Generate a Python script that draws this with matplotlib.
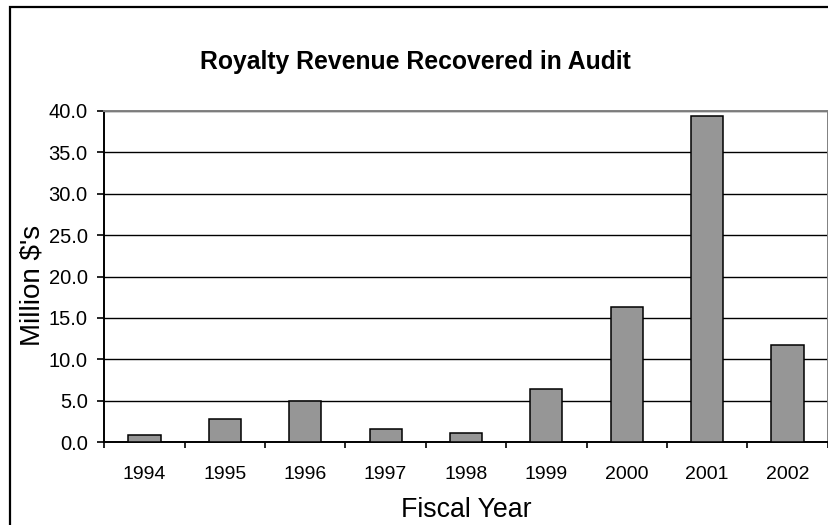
import matplotlib
matplotlib.use("Agg")
import matplotlib.pyplot as plt
from matplotlib.patches import Rectangle

years = ["1994", "1995", "1996", "1997", "1998", "1999", "2000", "2001", "2002"]
values = [0.9, 2.8, 5.0, 1.6, 1.1, 6.4, 16.3, 39.4, 11.7]
yticks = [0, 5, 10, 15, 20, 25, 30, 35, 40]
title = "Royalty Revenue Recovered in Audit"
xlabel = "Fiscal Year"
ylabel = "Million $'s"

plt.rcParams['font.family'] = ['Liberation Sans', 'DejaVu Sans']

W, H = 829, 525
fig = plt.figure(figsize=(W / 100, H / 100), dpi=100)

# outer chart border
fig.patches.append(Rectangle((10 / W, -0.2), 1.5, 1.2 - 7 / H, transform=fig.transFigure,
                             fill=False, edgecolor='black', linewidth=1.6, zorder=0))

ax = fig.add_axes([104.3 / W, 1 - 442.3 / H, (827.7 - 104.3) / W, (442.3 - 110.7) / H])
x = list(range(len(years)))
ax.bar(x, values, width=0.4, color='#969696', edgecolor='black', linewidth=1.1, zorder=3)
ax.set_xlim(-0.5, len(years) - 0.5)
ax.set_ylim(0, 40)

ax.set_yticks(yticks)
ax.set_yticklabels([f"{v:.1f}" for v in yticks])
ax.yaxis.grid(True, color='black', linewidth=1.0)
ax.set_axisbelow(True)

ax.set_xticks(x)
ax.set_xticklabels(years)
ax.set_xticks([i - 0.5 for i in range(len(years) + 1)], minor=True)
ax.tick_params(axis='x', which='major', length=0, pad=17, labelsize=14)
ax.tick_params(axis='x', which='minor', length=4.5, width=1.2, direction='out')
ax.tick_params(axis='y', which='major', length=5, width=1.2, direction='out', pad=7, labelsize=14.5)

for s in ['left', 'bottom']:
    ax.spines[s].set_color('black')
    ax.spines[s].set_linewidth(1.4)
for s in ['top', 'right']:
    ax.spines[s].set_color('#808080')
    ax.spines[s].set_linewidth(1.4)

fig.text(415 / W, 1 - 62 / H, title, ha='center', va='center', fontsize=17.8, fontweight='bold')
fig.text(466 / W, 1 - 516.7 / H, xlabel, ha='center', va='baseline', fontsize=19.3)
fig.text(33 / W, 1 - 285 / H, ylabel, ha='center', va='center', rotation=90, fontsize=20)

fig.savefig("out.png", dpi=100)
